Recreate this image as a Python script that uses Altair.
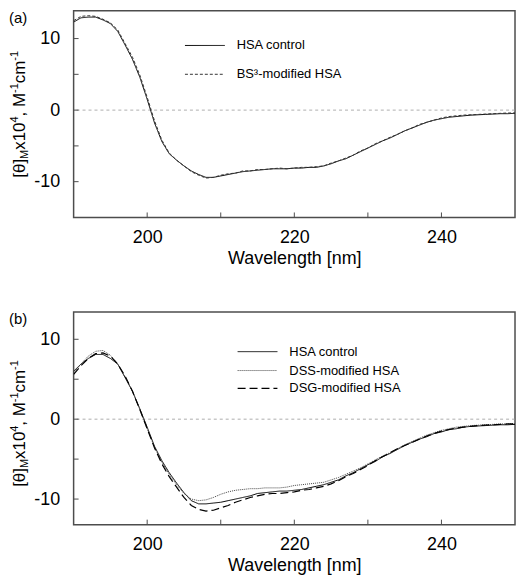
import altair as alt
import pandas as pd

FONT = "Liberation Sans"

wavelength = list(range(190, 251))

# Panel (a)
a_hsa = [12.3, 12.9, 13.0, 13.0, 12.6, 12.1, 11.0, 9.1, 7.1, 4.6,
         1.5, -1.8, -4.4, -6.1, -7.0, -7.8, -8.5, -9.0, -9.4, -9.4,
         -9.2, -9.0, -8.8, -8.6, -8.5, -8.4, -8.3, -8.2, -8.2, -8.2,
         -8.1, -8.1, -8.0, -8.0, -7.8, -7.5, -7.1, -6.8, -6.3, -5.8,
         -5.3, -4.8, -4.3, -3.9, -3.4, -2.9, -2.5, -2.1, -1.7, -1.4,
         -1.2, -1.0, -0.9, -0.8, -0.7, -0.65, -0.6, -0.55, -0.5, -0.5, -0.45]
a_bs3 = [12.5, 13.1, 13.2, 13.1, 12.7, 12.2, 11.2, 9.3, 7.4, 4.9,
         1.8, -1.5, -4.2, -6.0, -7.0, -7.8, -8.6, -9.1, -9.5, -9.4,
         -9.1, -8.9, -8.8, -8.5, -8.5, -8.3, -8.3, -8.2, -8.1, -8.2,
         -8.1, -8.0, -8.0, -7.9, -7.8, -7.4, -7.1, -6.7, -6.3, -5.7,
         -5.3, -4.7, -4.3, -3.8, -3.4, -2.9, -2.5, -2.0, -1.7, -1.4,
         -1.1, -0.9, -0.8, -0.7, -0.65, -0.6, -0.55, -0.5, -0.45, -0.4, -0.4]

# Panel (b)
b_hsa = [6.0, 6.9, 7.6, 8.1, 8.1, 7.6, 6.9, 5.2, 3.5, 1.3,
         -1.0, -3.4, -5.2, -6.7, -8.0, -9.2, -10.2, -10.6, -10.6, -10.5,
         -10.4, -10.2, -10.0, -9.8, -9.6, -9.3, -9.2, -9.1, -9.0, -9.0,
         -8.9, -8.8, -8.6, -8.4, -8.2, -7.9, -7.6, -7.1, -6.7, -6.2,
         -5.7, -5.3, -4.7, -4.3, -3.8, -3.3, -2.9, -2.5, -2.2, -1.8,
         -1.6, -1.3, -1.2, -1.0, -0.9, -0.85, -0.8, -0.75, -0.7, -0.7, -0.65]
b_dss = [5.8, 6.9, 7.9, 8.5, 8.6, 8.0, 6.9, 5.3, 3.5, 1.2,
         -1.2, -3.5, -5.4, -6.9, -8.2, -9.3, -10.0, -10.2, -10.1, -9.8,
         -9.4, -9.1, -8.9, -8.8, -8.7, -8.7, -8.6, -8.6, -8.6, -8.5,
         -8.3, -8.2, -8.1, -8.0, -7.9, -7.6, -7.3, -6.9, -6.5, -6.1,
         -5.6, -5.1, -4.6, -4.2, -3.7, -3.2, -2.8, -2.4, -2.0, -1.7,
         -1.4, -1.2, -1.0, -0.9, -0.8, -0.75, -0.7, -0.65, -0.6, -0.6, -0.55]
b_dsg = [5.6, 6.7, 7.6, 8.2, 8.3, 7.9, 6.9, 5.4, 3.5, 1.2,
         -1.2, -3.6, -5.6, -7.2, -8.5, -9.8, -10.8, -11.3, -11.5, -11.4,
         -11.1, -10.8, -10.4, -10.1, -9.8, -9.6, -9.4, -9.3, -9.3, -9.2,
         -9.1, -8.9, -8.8, -8.6, -8.4, -8.1, -7.7, -7.2, -6.8, -6.3,
         -5.8, -5.2, -4.7, -4.2, -3.7, -3.3, -2.9, -2.5, -2.1, -1.8,
         -1.5, -1.3, -1.1, -1.0, -0.9, -0.8, -0.75, -0.7, -0.65, -0.6, -0.6]

x_ticks = [200, 210, 220, 230, 240]
y_ticks = [-10, -5, 0, 5, 10]
x_labels = [200, 220, 240]
y_labels = [-10, 0, 10]

names_a = ["HSA control", "BS³-modified HSA"]
names_b = ["HSA control", "DSS-modified HSA", "DSG-modified HSA"]

EM = {"[": .278, "]": .278, "θ": .556, "M": .833, "x": .5, "1": .556, "0": .556,
      "4": .556, ",": .278, " ": .278, "-": .333, "c": .5, "m": .833}
TITLE_PIECES = [("[θ]", 17, 0), ("M", 11, 3), ("x10", 17, 0), ("4", 11, -7),
                (", M", 17, 0), ("-1", 11, -7), ("cm", 17, 0), ("-1", 11, -7)]

W = 444
LEFT = 65


def one(label):
    return pd.DataFrame({"s": [label]})


def panel(tag, names, series, colors, dashes, widths, ydom, H, leg_ys, leg_x, title_y0):
    xs = alt.Scale(domain=[190, 250], nice=False, zero=False)
    ys = alt.Scale(domain=ydom, nice=False, zero=False)
    xax = alt.Axis(values=x_labels, title="Wavelength [nm]", labelPadding=11, titlePadding=3)
    yax = alt.Axis(values=y_labels, title=None, labelPadding=14,
                   labelExpr="toString(datum.value)")
    X = alt.X("nm:Q", scale=xs, axis=xax)
    Y = alt.Y("v:Q", scale=ys, axis=yax)

    layers = []
    layers.append(alt.Chart(pd.DataFrame({"v": [0]})).mark_rule(
        color="#999999", strokeDash=[3, 3], strokeWidth=0.8).encode(y=Y))
    for name, vals, c, d, w in zip(names, series, colors, dashes, widths):
        df = pd.DataFrame({"nm": wavelength, "v": vals})
        layers.append(alt.Chart(df).mark_line(color=c, strokeDash=d, strokeWidth=w, clip=True)
                      .encode(x=X, y=Y))
    layers.append(alt.Chart(pd.DataFrame({"nm": x_ticks})).mark_rule(
        color="#4d4d4d", strokeWidth=1).encode(x=X, y=alt.value(H), y2=alt.value(H - 5)))
    layers.append(alt.Chart(pd.DataFrame({"v": y_ticks})).mark_rule(
        color="#4d4d4d", strokeWidth=1).encode(y=Y, x=alt.value(0), x2=alt.value(5)))
    # legend
    for name, c, d, w, ly in zip(names, colors, dashes, widths, leg_ys):
        layers.append(alt.Chart(one(name)).mark_rule(color=c, strokeDash=d, strokeWidth=w).encode(
            x=alt.value(leg_x), x2=alt.value(leg_x + 40), y=alt.value(ly)))
        layers.append(alt.Chart(one(name)).mark_text(
            align="left", baseline="middle", font=FONT, fontSize=13, color="black").encode(
            x=alt.value(leg_x + 52), y=alt.value(ly), text="s:N"))
    # panel tag
    layers.append(alt.Chart(one(tag)).mark_text(
        align="left", baseline="top", font=FONT, fontSize=15, color="black").encode(
        x=alt.value(-LEFT), y=alt.value(0), text="s:N"))
    # y title built from pieces (sub/superscripts)
    bx = -LEFT + 16
    cum = 0.0
    for txt, fs, shift in TITLE_PIECES:
        layers.append(alt.Chart(one(txt)).mark_text(
            align="left", baseline="alphabetic", angle=270, font=FONT, fontSize=fs,
            color="black").encode(
            x=alt.value(bx + shift), y=alt.value(title_y0 - cum), text="s:N"))
        cum += sum(EM[ch] for ch in txt) * fs
    return alt.layer(*layers).properties(width=W, height=H)


pa = panel("(a)", names_a, [a_hsa, a_bs3], ["#000000", "#333333"],
           [[1, 0], [3, 2]], [1.0, 1.0], [-15, 13.9], 208, [35, 64], 112, 168)
pb = panel("(b)", names_b, [b_hsa, b_dss, b_dsg], ["#000000", "#444444", "#000000"],
           [[1, 0], [1, 1], [8, 4]], [1.0, 1.0, 1.2], [-13.2, 13.43], 214, [40, 59, 77], 165, 176)

chart = alt.vconcat(pa, pb, spacing=43, padding=0).configure_view(
    stroke="#4d4d4d", strokeWidth=1.5
).configure_axis(
    domain=False, ticks=False, grid=False,
    labelFont=FONT, labelFontSize=18, labelColor="black",
    titleFont=FONT, titleFontSize=18, titleFontWeight="normal", titleColor="black",
)

chart.save("out.html", embed_options={"renderer": "svg", "actions": False})
